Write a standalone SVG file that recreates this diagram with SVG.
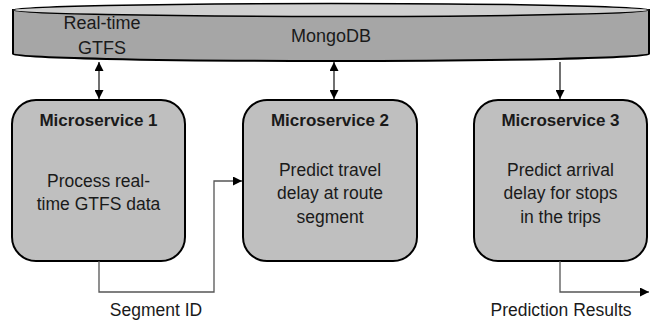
<svg xmlns="http://www.w3.org/2000/svg" width="662" height="322" viewBox="0 0 662 322">
<defs>
<style>
.box{fill:#bfbfbf;stroke:#000;stroke-width:2}
.t{font-family:"Liberation Sans",Arial,sans-serif;fill:#1a1a1a;text-anchor:middle}
.title{font-size:17px;font-weight:bold}
.body{font-size:17.5px}
.db{font-size:18px}
.lab{font-size:17.5px}
.conn{fill:none;stroke:#111;stroke-width:1.2}
.gconn{fill:none;stroke:#555;stroke-width:1.3}
</style>
<marker id="ah" viewBox="0 0 10 10" refX="10" refY="5" markerWidth="9" markerHeight="9" markerUnits="userSpaceOnUse" orient="auto-start-reverse">
<path d="M0,0 L10,5 L0,10 Z" fill="#000"/>
</marker>
</defs>
<rect width="662" height="322" fill="#fff"/>
<g id="mongodb">
<path d="M13,10 L13,54 A318,7 0 0,0 649,54 L649,10 Z" fill="#a6a6a6" stroke="#000" stroke-width="2"/>
<ellipse cx="331" cy="10" rx="318" ry="6.5" fill="#d0d0d0" stroke="#000" stroke-width="1.5"/>
<text class="t db" x="331" y="42">MongoDB</text>
<text class="t db" x="102" y="29">Real-time</text>
<text class="t db" x="102" y="54">GTFS</text>
</g>
<g id="ms1">
<rect class="box" x="12" y="100" width="173" height="161" rx="24"/>
<text class="t title" x="98.5" y="126">Microservice 1</text>
<text class="t body" x="98.5" y="187">Process real-</text>
<text class="t body" x="98.5" y="210">time GTFS data</text>
</g>
<g id="ms2">
<rect class="box" x="243" y="100" width="174" height="161" rx="24"/>
<text class="t title" x="330" y="126">Microservice 2</text>
<text class="t body" x="330" y="176">Predict travel</text>
<text class="t body" x="330" y="199">delay at route</text>
<text class="t body" x="330" y="223">segment</text>
</g>
<g id="ms3">
<rect class="box" x="474" y="100" width="173" height="161" rx="24"/>
<text class="t title" x="560.5" y="126">Microservice 3</text>
<text class="t body" x="560.5" y="176">Predict arrival</text>
<text class="t body" x="560.5" y="199">delay for stops</text>
<text class="t body" x="560.5" y="223">in the trips</text>
</g>
<g id="connectors">
<path class="conn" d="M99,62 V99" marker-start="url(#ah)" marker-end="url(#ah)"/>
<path class="conn" d="M334,62 V99" marker-start="url(#ah)" marker-end="url(#ah)"/>
<path class="conn" d="M560,62 V99" marker-end="url(#ah)"/>
<path class="gconn" d="M99,261 V292 H214 V181 H242" marker-end="url(#ah)"/>
<path class="gconn" d="M560,261 V292 H649" marker-end="url(#ah)"/>
<text class="t lab" x="156" y="316">Segment ID</text>
<text class="t lab" x="561" y="316">Prediction Results</text>
</g>
</svg>
